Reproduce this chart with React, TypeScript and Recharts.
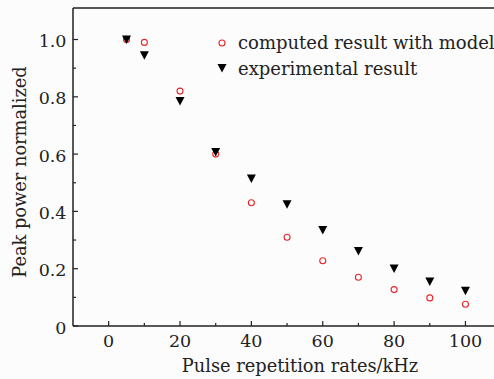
import { ScatterChart, Scatter, XAxis, YAxis, ReferenceLine, Customized } from 'recharts';

// pulse repetition rate (kHz)
const rates = [5, 10, 20, 30, 40, 50, 60, 70, 80, 90, 100];
// normalized peak power
const computedValues = [1.0, 0.99, 0.82, 0.6, 0.43, 0.31, 0.228, 0.17, 0.127, 0.098, 0.076];
const experimentalValues = [1.0, 0.945, 0.785, 0.607, 0.515, 0.425, 0.335, 0.262, 0.201, 0.155, 0.123];

const xTicks = [0, 10, 20, 30, 40, 50, 60, 70, 80, 90, 100];
const yTicks = [0, 0.1, 0.2, 0.3, 0.4, 0.5, 0.6, 0.7, 0.8, 0.9, 1.0];

const FONT = '"DejaVu Serif", serif';
const INK = '#222';
const RED = '#e8262a';
const M = 6;

const computedData = rates.map((x, i) => ({ x, y: computedValues[i] }));
const experimentalData = rates.map((x, i) => ({ x, y: experimentalValues[i] }));

const Circle = (props: any) => (
  <circle cx={props.cx} cy={props.cy} r={3} fill="none" stroke={RED} strokeWidth={1.1} />
);

const Triangle = (props: any) => {
  const { cx, cy } = props;
  return <polygon points={`${cx - 4.5},${cy - 4} ${cx + 4.5},${cy - 4} ${cx},${cy + 4.5}`} fill="#000" />;
};

const XTick = ({ x, y, payload }: any) => {
  const v = payload.value;
  const major = v % 20 === 0;
  const ay = y - M;
  return (
    <g>
      <line x1={x} x2={x} y1={ay} y2={ay - (major ? 5 : 3)} stroke={INK} strokeWidth={1.2} />
      {major && (
        <text x={x} y={ay + 21} textAnchor="middle" fontFamily={FONT} fontSize={17.5} fill={INK}>
          {v}
        </text>
      )}
    </g>
  );
};

const YTick = ({ x, y, payload }: any) => {
  const v = payload.value;
  const major = Math.round(v * 10) % 2 === 0;
  const ax = x + M;
  return (
    <g>
      <line x1={ax} x2={ax + (major ? 5 : 3)} y1={y} y2={y} stroke={INK} strokeWidth={1.2} />
      {major && (
        <text x={ax - 6.5} y={y + 7.5} textAnchor="end" fontFamily={FONT} fontSize={17.5} fill={INK}>
          {v === 0 ? '0' : v.toFixed(1)}
        </text>
      )}
    </g>
  );
};

const Labels = () => (
  <g fontFamily={FONT} fill={INK}>
    <text x={300} y={372} textAnchor="middle" fontSize={17.8}>Pulse repetition rates/kHz</text>
    <text x={19} y={172} textAnchor="middle" dominantBaseline="central" fontSize={17.8} transform="rotate(-90 19 172)">
      Peak power normalized
    </text>
    {/* legend */}
    <circle cx={222} cy={43} r={3} fill="none" stroke={RED} strokeWidth={1.1} />
    <text x={238} y={49} fontSize={18}>computed result with model</text>
    <polygon points="217.5,64 226.5,64 222,72.5" fill="#000" />
    <text x={238} y={75} fontSize={18}>experimental result</text>
  </g>
);

export default function App() {
  return (
    <div style={{ position: 'absolute', left: 0, top: 0, width: 494, height: 379, background: '#fcfcfc' }}>
      <ScatterChart width={494} height={379} margin={{ top: 8, right: 0, left: 0, bottom: 0 }}>
        <XAxis
          type="number"
          dataKey="x"
          domain={[-10, 108]}
          ticks={xTicks}
          tick={<XTick />}
          tickLine={false}
          tickSize={0}
          tickMargin={M}
          height={53}
          axisLine={{ stroke: INK, strokeWidth: 1.5 }}
          allowDataOverflow
        />
        <YAxis
          type="number"
          dataKey="y"
          domain={[0, 1.11]}
          ticks={yTicks}
          tick={<YTick />}
          tickLine={false}
          tickSize={0}
          tickMargin={M}
          width={73}
          axisLine={{ stroke: INK, strokeWidth: 1.5 }}
          allowDataOverflow
        />
        <ReferenceLine y={1.11} stroke={INK} strokeWidth={1.5} />
        <Scatter data={computedData} shape={<Circle />} isAnimationActive={false} />
        <Scatter data={experimentalData} shape={<Triangle />} isAnimationActive={false} />
        <Customized component={<Labels />} />
      </ScatterChart>
    </div>
  );
}
